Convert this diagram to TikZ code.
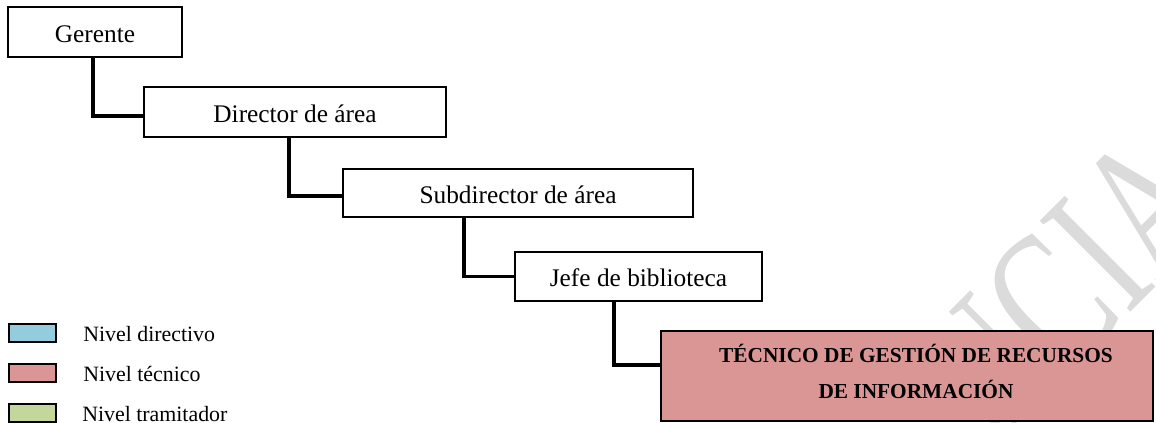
\documentclass[tikz,border=0pt]{standalone}
\usepackage{fontspec}
\setmainfont{Liberation Serif}
\usepackage{graphicx}
\definecolor{swblue}{RGB}{147,205,221}
\definecolor{swred}{RGB}{217,150,148}
\definecolor{swgreen}{RGB}{195,214,155}
\definecolor{wmgray}{RGB}{219,219,219}
\tikzset{
  orgbox/.style={draw=black, line width=1.3pt, fill=white, rectangle, inner sep=0pt,
    font=\fontsize{19}{23}\selectfont, text height=15.6pt, text depth=0pt},
  conn/.style={draw=black, line width=2.6pt},
  swatch/.style={draw=black, line width=1.5pt, rectangle, minimum width=35.25pt,
    minimum height=13.5pt, inner sep=0pt},
  legtext/.style={anchor=west, inner sep=0pt, font=\fontsize{16.4}{20}\selectfont,
    text height=10.9pt, text depth=0pt},
  wm/.style={text=wmgray, rotate=45, anchor=base, inner sep=0pt,
    font=\fontsize{147}{150}\selectfont},
}
\begin{document}
\begin{tikzpicture}[x=0.75pt, y=-0.75pt]
\useasboundingbox (0,0) rectangle (1156,423);
\fill[white] (0,0) rectangle (1156,423);
% watermark
\node[wm] (wmN) at (1029,414) {\scalebox{0.69}[1]{N}};
\node[wm] (wmC) at (1095,348) {\scalebox{0.69}[1]{C}};
\node[wm] (wmI) at (1143,300) {\scalebox{0.69}[1]{I}};
\node[wm] (wmA) at (1193,250) {\scalebox{0.69}[1]{A}};
% boxes
\node[orgbox, minimum width=130.5pt, minimum height=37.5pt] (ger) at (95,32) {Gerente};
\node[orgbox, minimum width=226.5pt, minimum height=37.5pt] (dir) at (295,112) {Director de área};
\node[orgbox, minimum width=262.5pt, minimum height=36pt] (sub) at (518,193) {Subdirector de área};
\node[orgbox, minimum width=185.25pt, minimum height=36.75pt] (jef) at (638.5,276.5) {Jefe de biblioteca};
\node[draw=black, line width=1.3pt, fill=swred, rectangle, inner sep=0pt,
      minimum width=369pt, minimum height=67.5pt] (tec) at (907,376) {};
\node[font=\bfseries\fontsize{16}{27}\selectfont, align=center, inner sep=0pt] (tect) at (916,371)
  {TÉCNICO DE GESTIÓN DE RECURSOS\\DE INFORMACIÓN};
% connectors
\draw[conn] ([xshift=-1.5pt]ger.south) |- ([yshift=-3pt]dir.west);
\draw[conn] ([xshift=-4.5pt]dir.south) |- ([yshift=-2.25pt]sub.west);
\draw[conn] ([xshift=-40.5pt]sub.south) |- (jef.west);
\draw[conn] ([xshift=-18.4pt]jef.south) |- ([yshift=8.25pt]tec.west);
% legend
\node[swatch, fill=swblue] (lb) at (32.5,333) {};
\node[swatch, fill=swred] (lr) at (32.5,373.5) {};
\node[swatch, fill=swgreen] (lg) at (32,413) {};
\node[legtext] (lbt) at (83,334.5) {Nivel directivo};
\node[legtext] (lrt) at (83,374.5) {Nivel técnico};
\node[legtext] (lgt) at (82,414) {Nivel tramitador};
\end{tikzpicture}
\end{document}
